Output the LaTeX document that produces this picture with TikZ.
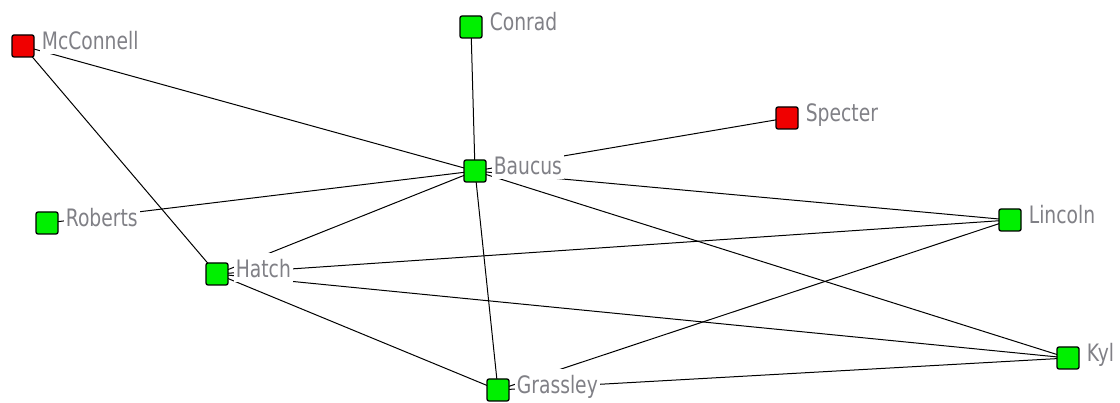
\documentclass[tikz,border=0pt]{standalone}
\usepackage{fontspec}
\setmainfont{DejaVu Sans}[FakeStretch=0.78]
\usetikzlibrary{backgrounds}
\definecolor{labgray}{RGB}{128,128,134}
\definecolor{ngreen}{RGB}{0,240,0}
\definecolor{nred}{RGB}{240,0,0}
\tikzset{
  sq/.style={draw=black, line width=1.3pt, rounded corners=2pt, minimum size=22pt, inner sep=0pt},
  gsq/.style={sq, fill=ngreen},
  rsq/.style={sq, fill=nred},
  lab/.style={font=\fontsize{24}{24}\selectfont, text=labgray, fill=white, inner xsep=2pt, inner ysep=0pt,
     text height=25pt, text depth=4.5pt, anchor=base west, xshift=5pt, yshift=-4pt},
  edge/.style={draw=black, line width=1pt}
}
\begin{document}
\begin{tikzpicture}[x=1pt,y=-1pt]
\useasboundingbox (0,0) rectangle (1120,403);
\node[rsq, label={[lab]east:McConnell}] (mcc) at (23,46) {};
\node[gsq, label={[lab]east:Conrad}] (con) at (471,27) {};
\node[rsq, label={[lab]east:Specter}] (spe) at (787,118) {};
\node[gsq, label={[lab]east:Baucus}] (bau) at (475,171) {};
\node[gsq, label={[lab]east:Roberts}] (rob) at (47,223) {};
\node[gsq, label={[lab]east:Hatch}] (hat) at (217,274) {};
\node[gsq, label={[lab]east:Grassley}] (gra) at (498,390) {};
\node[gsq, label={[lab]east:Lincoln}] (lin) at (1010,220) {};
\node[gsq, label={[lab]east:Kyl}] (kyl) at (1068,358) {};
\begin{scope}[on background layer]
\fill[white] (0,0) rectangle (1120,403);
\draw[edge] (mcc.center) -- (hat.center);
\draw[edge] (mcc.center) -- (bau.center);
\draw[edge] (con.center) -- (bau.center);
\draw[edge] (spe.center) -- (bau.center);
\draw[edge] (rob.center) -- (bau.center);
\draw[edge] (hat.center) -- (bau.center);
\draw[edge] (bau.center) -- (gra.center);
\draw[edge] (bau.center) -- (lin.center);
\draw[edge] (bau.center) -- (kyl.center);
\draw[edge] (hat.center) -- (lin.center);
\draw[edge] (hat.center) -- (kyl.center);
\draw[edge] (hat.center) -- (gra.center);
\draw[edge] (gra.center) -- (lin.center);
\draw[edge] (gra.center) -- (kyl.center);
\end{scope}
\end{tikzpicture}
\end{document}
